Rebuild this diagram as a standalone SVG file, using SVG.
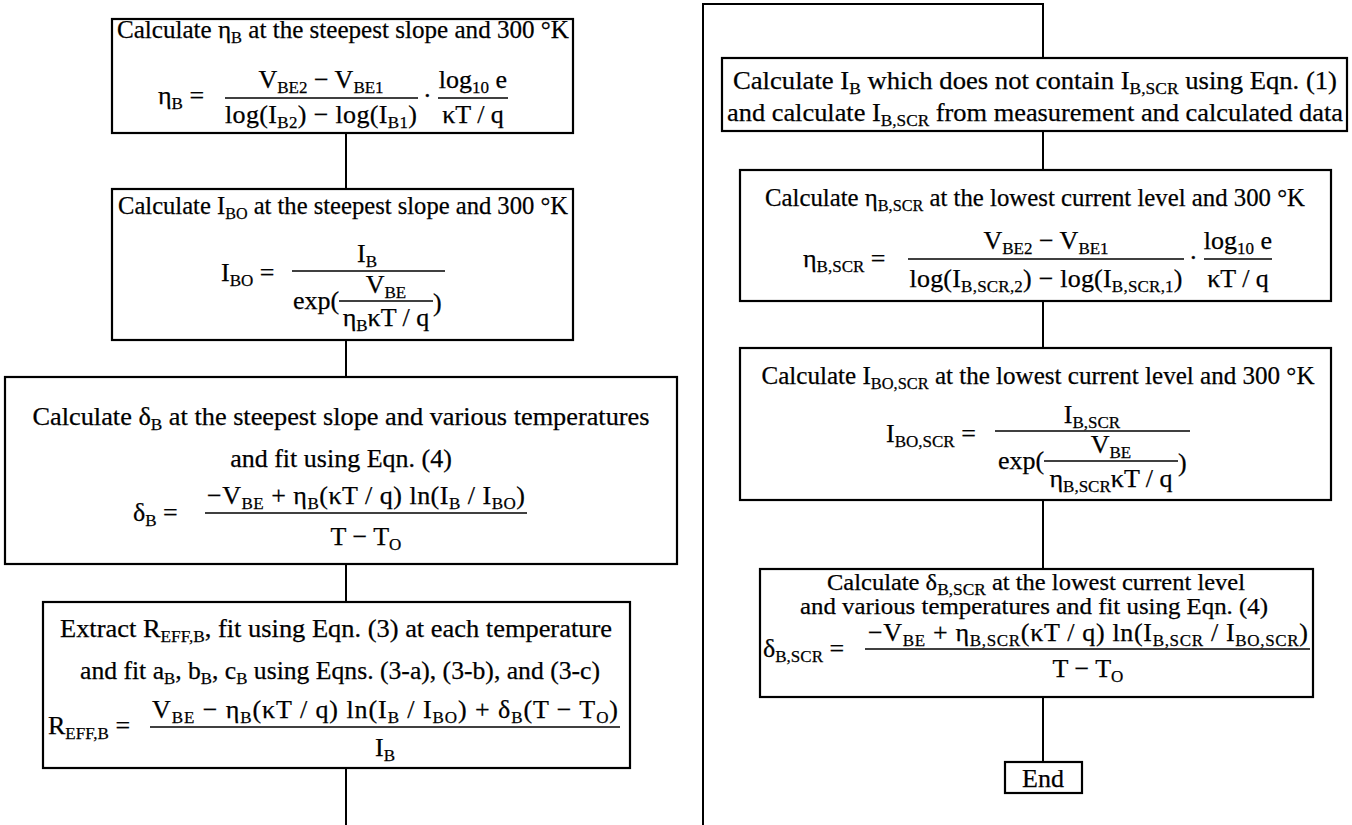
<svg xmlns="http://www.w3.org/2000/svg" width="1352" height="825" viewBox="0 0 1352 825">
  <style>
    text { font-family: "Liberation Serif", "Times New Roman", serif; font-size: 26px; fill: #000; stroke: #000; stroke-width: 0.25; }
    .c { text-anchor: middle; }
    .s { font-size: 17px; }
    .sm { font-size: 24px; }
    .box { fill: #fff; stroke: #000; stroke-width: 2.2; }
    .wire { fill: none; stroke: #000; stroke-width: 2; }
    .bar { stroke: #000; stroke-width: 1.4; }
  </style>
  <rect width="1352" height="825" fill="#fff"/>

  <!-- connectors -->
  <g id="connectors">
    <line class="wire" x1="346" y1="133" x2="346" y2="189"/>
    <line class="wire" x1="346" y1="340" x2="346" y2="377"/>
    <line class="wire" x1="346" y1="564" x2="346" y2="602"/>
    <line class="wire" x1="346" y1="768" x2="346" y2="825"/>
    <path class="wire" d="M703,825 V4 H1043 V58"/>
    <line class="wire" x1="1043" y1="131" x2="1043" y2="170"/>
    <line class="wire" x1="1043" y1="301" x2="1043" y2="348"/>
    <line class="wire" x1="1043" y1="500" x2="1043" y2="569"/>
    <line class="wire" x1="1043" y1="697" x2="1043" y2="762"/>
  </g>

  <!-- ideality factor at 300 K -->
  <g id="eta-b">
    <rect class="box" x="112" y="19" width="461" height="114"/>
    <text class="c" x="343" y="38" textLength="452" lengthAdjust="spacingAndGlyphs">Calculate η<tspan class="s" dy="5">B</tspan><tspan dy="-5"> at the steepest slope and 300 °K</tspan></text>
    <text x="158" y="104">η<tspan class="s" dy="5">B</tspan><tspan dy="-5"> =</tspan></text>
    <line class="bar" x1="225" y1="98" x2="418" y2="98"/>
    <text class="c" x="321" y="88">V<tspan class="s" dy="5">BE2</tspan><tspan dy="-5"> − V</tspan><tspan class="s" dy="5">BE1</tspan></text>
    <text class="c" x="321" y="123" textLength="192">log(I<tspan class="s" dy="5">B2</tspan><tspan dy="-5">) − log(I</tspan><tspan class="s" dy="5">B1</tspan><tspan dy="-5">)</tspan></text>
    <text x="423" y="104">·</text>
    <line class="bar" x1="438" y1="98" x2="508" y2="98"/>
    <text class="c" x="473" y="88">log<tspan class="s" dy="5">10</tspan><tspan dy="-5"> e</tspan></text>
    <text class="c" x="473" y="123">κT / q</text>
  </g>

  <!-- saturation current at 300 K -->
  <g id="ibo">
    <rect class="box" x="112" y="189" width="461" height="151"/>
    <text class="c" x="343" y="214" textLength="450" lengthAdjust="spacingAndGlyphs">Calculate I<tspan class="s" dy="5">BO</tspan><tspan dy="-5"> at the steepest slope and 300 °K</tspan></text>
    <text x="221" y="281">I<tspan class="s" dy="5">BO</tspan><tspan dy="-5"> =</tspan></text>
    <line class="bar" x1="292" y1="271" x2="445" y2="271"/>
    <text class="c" x="367" y="262">I<tspan class="s" dy="5">B</tspan></text>
    <text x="293" y="309">exp(</text>
    <line class="bar" x1="339" y1="301" x2="433" y2="301"/>
    <text class="c" x="386" y="293">V<tspan class="s" dy="5">BE</tspan></text>
    <text class="c" x="386" y="326">η<tspan class="s" dy="5">B</tspan><tspan dy="-5">κT / q</tspan></text>
    <text x="433" y="311">)</text>
  </g>

  <!-- temperature coefficient -->
  <g id="delta-b">
    <rect class="box" x="5" y="377" width="672" height="187"/>
    <text class="c" x="341" y="425" textLength="617" lengthAdjust="spacingAndGlyphs">Calculate δ<tspan class="s" dy="5">B</tspan><tspan dy="-5"> at the steepest slope and various temperatures</tspan></text>
    <text class="c" x="341" y="467">and fit using Eqn. (4)</text>
    <text x="133" y="521">δ<tspan class="s" dy="5">B</tspan><tspan dy="-5"> =</tspan></text>
    <line class="bar" x1="205" y1="513" x2="527" y2="513"/>
    <text class="c" x="366" y="504" textLength="318">−V<tspan class="s" dy="5">BE</tspan><tspan dy="-5"> + η</tspan><tspan class="s" dy="5">B</tspan><tspan dy="-5">(κT / q) ln(I</tspan><tspan class="s" dy="5">B</tspan><tspan dy="-5"> / I</tspan><tspan class="s" dy="5">BO</tspan><tspan dy="-5">)</tspan></text>
    <text class="c" x="366" y="545">T − T<tspan class="s" dy="5">O</tspan></text>
  </g>

  <!-- effective base resistance -->
  <g id="reff-b">
    <rect class="box" x="43" y="602" width="587" height="166"/>
    <text class="c" x="336" y="637" textLength="552" lengthAdjust="spacingAndGlyphs">Extract R<tspan class="s" dy="5">EFF,B</tspan><tspan dy="-5">, fit using Eqn. (3) at each temperature</tspan></text>
    <text class="c" x="340" y="679" textLength="520" lengthAdjust="spacingAndGlyphs">and fit a<tspan class="s" dy="5">B</tspan><tspan dy="-5">, b</tspan><tspan class="s" dy="5">B</tspan><tspan dy="-5">, c</tspan><tspan class="s" dy="5">B</tspan><tspan dy="-5"> using Eqns. (3-a), (3-b), and (3-c)</tspan></text>
    <text x="48" y="734">R<tspan class="s" dy="5">EFF,B</tspan><tspan dy="-5"> =</tspan></text>
    <line class="bar" x1="150" y1="727" x2="620" y2="727"/>
    <text class="c" x="385" y="718" textLength="466">V<tspan class="s" dy="5">BE</tspan><tspan dy="-5"> − η</tspan><tspan class="s" dy="5">B</tspan><tspan dy="-5">(κT / q) ln(I</tspan><tspan class="s" dy="5">B</tspan><tspan dy="-5"> / I</tspan><tspan class="s" dy="5">BO</tspan><tspan dy="-5">) + δ</tspan><tspan class="s" dy="5">B</tspan><tspan dy="-5">(T − T</tspan><tspan class="s" dy="5">O</tspan><tspan dy="-5">)</tspan></text>
    <text class="c" x="385" y="756">I<tspan class="s" dy="5">B</tspan></text>
  </g>

  <!-- split of base current -->
  <g id="ib-scr">
    <rect class="box" x="722" y="58" width="625" height="73"/>
    <text class="c" x="1035" y="89" textLength="604" lengthAdjust="spacingAndGlyphs">Calculate I<tspan class="s" dy="5">B</tspan><tspan dy="-5"> which does not contain I</tspan><tspan class="s" dy="5">B,SCR</tspan><tspan dy="-5"> using Eqn. (1)</tspan></text>
    <text class="c" x="1035" y="121" textLength="616" lengthAdjust="spacingAndGlyphs">and calculate I<tspan class="s" dy="5">B,SCR</tspan><tspan dy="-5"> from measurement and calculated data</tspan></text>
  </g>

  <!-- SCR ideality factor -->
  <g id="eta-scr">
    <rect class="box" x="740" y="170" width="591" height="131"/>
    <text class="c" x="1035" y="206" textLength="540" lengthAdjust="spacingAndGlyphs">Calculate η<tspan class="s" dy="5">B,SCR</tspan><tspan dy="-5"> at the lowest current level and 300 °K</tspan></text>
    <text x="803" y="267">η<tspan class="s" dy="5">B,SCR</tspan><tspan dy="-5"> =</tspan></text>
    <line class="bar" x1="908" y1="259" x2="1184" y2="259"/>
    <text class="c" x="1046" y="249">V<tspan class="s" dy="5">BE2</tspan><tspan dy="-5"> − V</tspan><tspan class="s" dy="5">BE1</tspan></text>
    <text class="c" x="1046" y="287" textLength="273">log(I<tspan class="s" dy="5">B,SCR,2</tspan><tspan dy="-5">) − log(I</tspan><tspan class="s" dy="5">B,SCR,1</tspan><tspan dy="-5">)</tspan></text>
    <text x="1189" y="266">·</text>
    <line class="bar" x1="1204" y1="259" x2="1272" y2="259"/>
    <text class="c" x="1238" y="249">log<tspan class="s" dy="5">10</tspan><tspan dy="-5"> e</tspan></text>
    <text class="c" x="1238" y="287">κT / q</text>
  </g>

  <!-- SCR saturation current -->
  <g id="ibo-scr">
    <rect class="box" x="740" y="348" width="591" height="152"/>
    <text class="c" x="1038" y="384" textLength="553" lengthAdjust="spacingAndGlyphs">Calculate I<tspan class="s" dy="5">BO,SCR</tspan><tspan dy="-5"> at the lowest current level and 300 °K</tspan></text>
    <text x="886" y="442">I<tspan class="s" dy="5">BO,SCR</tspan><tspan dy="-5"> =</tspan></text>
    <line class="bar" x1="995" y1="431" x2="1190" y2="431"/>
    <text class="c" x="1092" y="423">I<tspan class="s" dy="5">B,SCR</tspan></text>
    <text x="998" y="469">exp(</text>
    <line class="bar" x1="1044" y1="461" x2="1178" y2="461"/>
    <text class="c" x="1111" y="453">V<tspan class="s" dy="5">BE</tspan></text>
    <text class="c" x="1111" y="487">η<tspan class="s" dy="5">B,SCR</tspan><tspan dy="-5">κT / q</tspan></text>
    <text x="1178" y="471">)</text>
  </g>

  <!-- SCR temperature coefficient -->
  <g id="delta-scr">
    <rect class="box" x="760" y="569" width="553" height="128"/>
    <text class="c sm" x="1036" y="590" textLength="418" lengthAdjust="spacingAndGlyphs">Calculate δ<tspan class="s" dy="5">B,SCR</tspan><tspan dy="-5"> at the lowest current level</tspan></text>
    <text class="c sm" x="1034" y="614" textLength="468" lengthAdjust="spacingAndGlyphs">and various temperatures and fit using Eqn. (4)</text>
    <text x="763" y="657">δ<tspan class="s" dy="5">B,SCR</tspan><tspan dy="-5"> =</tspan></text>
    <line class="bar" x1="865" y1="649" x2="1310" y2="649"/>
    <text class="c" x="1088" y="641" textLength="440">−V<tspan class="s" dy="5">BE</tspan><tspan dy="-5"> + η</tspan><tspan class="s" dy="5">B,SCR</tspan><tspan dy="-5">(κT / q) ln(I</tspan><tspan class="s" dy="5">B,SCR</tspan><tspan dy="-5"> / I</tspan><tspan class="s" dy="5">BO,SCR</tspan><tspan dy="-5">)</tspan></text>
    <text class="c" x="1088" y="677">T − T<tspan class="s" dy="5">O</tspan></text>
  </g>

  <!-- terminator -->
  <g id="end">
    <rect class="box" x="1005" y="762" width="77" height="31"/>
    <text class="c" x="1043" y="787">End</text>
  </g>
</svg>
